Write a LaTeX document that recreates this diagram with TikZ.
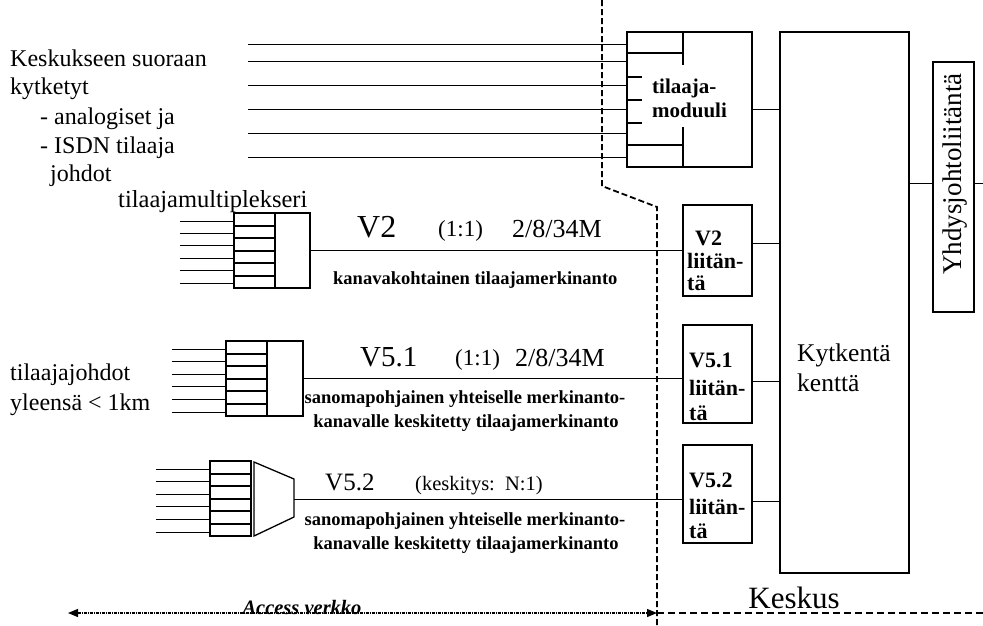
\documentclass[tikz,border=0pt]{standalone}
\usepackage{fontspec}
\setmainfont{Liberation Serif}
\usetikzlibrary{arrows.meta,calc}
\newcommand\fsz[1]{\fontsize{#1}{#1}\selectfont}
\begin{document}
\begin{tikzpicture}[x=1pt,y=-1pt,
  box/.style={draw, line width=1.2pt, inner sep=0pt},
  ln/.style={line width=1pt},
  thk/.style={line width=2pt},
  txt/.style={inner sep=0pt, anchor=base west},
  ctxt/.style={inner sep=0pt, anchor=base},
  sepline/.style={line width=1.8pt, dash pattern=on 6pt off 3pt},
  accline/.style={line width=1.2pt, dash pattern=on 3pt off 1pt on 1pt off 1pt},
  bsm/.style={font=\bfseries\fsz{18.5}},
  bbox/.style={font=\bfseries\fsz{22}},
]
\useasboundingbox (0,0) rectangle (983,625);

% separator between access network and exchange
\coordinate (s1) at (602,0);
\coordinate (s2) at (602,186);
\coordinate (s3) at (657,207);
\coordinate (s4) at (657,625);
\draw[sepline] (s1) -- (s2) -- (s3) -- (s4);

% left text
\node[txt, font=\fsz{24}] (l1) at (10,66) {Keskukseen suoraan};
\node[txt, font=\fsz{24}] (l2) at (10,94) {kytketyt};
\node[txt, font=\fsz{24}] (l3) at (40,124) {- analogiset ja};
\node[txt, font=\fsz{24}] (l4) at (40,153) {- ISDN tilaaja};
\node[txt, font=\fsz{24}] (l5) at (50,181) {johdot};

% subscriber module
\node[box, minimum width=125pt, minimum height=135pt] (mod) at (689.5,99.5) {};
\foreach \y in {44,61,85,109,133,157}
  \draw[ln] (248,\y) -- (mod.west |- 0,\y);
\draw[thk] (683,32) -- (683,65);
\draw[thk] (683,127) -- (683,167);
\draw[thk] (mod.west |- 0,53) -- (683,53);
\draw[thk] (mod.west |- 0,145) -- (683,145);
\foreach \y in {77,100,123}
  \draw[thk] (mod.west |- 0,\y) -- (642,\y);
\node[txt, font=\bfseries\fsz{21}] (mt1) at (652,93) {tilaaja-};
\node[txt, font=\bfseries\fsz{21}] (mt2) at (652,117) {moduuli};

% switching field
\node[box, minimum width=129pt, minimum height=541pt] (kyt) at (844.5,302.5) {};
\node[txt, font=\fsz{25.5}] (kt1) at (797,361) {Kytkentä};
\node[txt, font=\fsz{25.5}] (kt2) at (797,391) {kenttä};
\draw[ln] (mod.east |- 0,109) -- (kyt.west |- 0,109);

% trunk interface
\node[box, minimum width=41pt, minimum height=250pt] (yhd) at (953.5,187) {};
\node[rotate=90, inner sep=0pt, font=\fsz{27}] (yhdt) at (955,174) {Yhdysjohtoliitäntä};
\coordinate (rend) at (983,183);
\draw[ln] (kyt.east |- rend) -- (yhd.west |- rend);
\draw[ln] (yhd.east |- rend) -- (rend);

% interface boxes
\node[box, minimum width=69pt, minimum height=91pt] (v2) at (717.5,250.5) {};
\node[box, minimum width=69pt, minimum height=98pt] (v51) at (717.5,374) {};
\node[box, minimum width=69pt, minimum height=98pt] (v52) at (717.5,494) {};
\node[txt, bbox] (v2a) at (695,245) {V2};
\node[txt, bbox] (v2b) at (687,268) {liitän-};
\node[txt, bbox] (v2c) at (687,290) {tä};
\node[txt, bbox] (v51a) at (689,367) {V5.1};
\node[txt, bbox] (v51b) at (689,395) {liitän-};
\node[txt, bbox] (v51c) at (689,420) {tä};
\node[txt, bbox] (v52a) at (689,487) {V5.2};
\node[txt, bbox] (v52b) at (689,514) {liitän-};
\node[txt, bbox] (v52c) at (689,538) {tä};
\draw[ln] (v2.east |- 0,243) -- (kyt.west |- 0,243);
\draw[ln] (v51.east |- 0,381) -- (kyt.west |- 0,381);
\draw[ln] (v52.east |- 0,501) -- (kyt.west |- 0,501);

% multiplexer 1 (V2)
\node[box, minimum width=76pt, minimum height=75pt] (m1) at (272,250.5) {};
\draw[thk] (275,213) -- (275,288);
\foreach \k in {1,...,5}
  \draw[thk] (m1.west |- 0,{213+\k*12.5}) -- (275,{213+\k*12.5});
\foreach \k in {0,...,5}
  \draw[ln] (180,{221+\k*12.4}) -- (m1.west |- 0,{221+\k*12.4});
\node[txt, font=\fsz{24.5}] (mx1) at (118,207) {tilaajamultiplekseri};
\draw[ln] (m1.east) -- (v2.west);
\node[txt, font=\fsz{32}] (r1a) at (357,237) {V2};
\node[txt, font=\fsz{23}] (r1b) at (438,236) {(1:1)};
\node[txt, font=\fsz{26}] (r1c) at (512,237) {2/8/34M};
\node[txt, bsm] (r1d) at (333,284) {kanavakohtainen tilaajamerkinanto};

% multiplexer 2 (V5.1)
\node[box, minimum width=77pt, minimum height=75pt] (m2) at (264.5,378.5) {};
\draw[thk] (267,341) -- (267,416);
\foreach \k in {1,...,5}
  \draw[thk] (m2.west |- 0,{341+\k*12.5}) -- (267,{341+\k*12.5});
\foreach \k in {0,...,5}
  \draw[ln] (172,{349+\k*12.6}) -- (m2.west |- 0,{349+\k*12.6});
\node[txt, font=\fsz{24}] (tj1) at (10,380) {tilaajajohdot};
\node[txt, font=\fsz{24}] (tj2) at (10,410) {yleensä < 1km};
\draw[ln] (m2.east |- 0,378) -- (v51.west |- 0,378);
\node[txt, font=\fsz{29}] (r2a) at (360,366) {V5.1};
\node[txt, font=\fsz{23}] (r2b) at (455,365) {(1:1)};
\node[txt, font=\fsz{26}] (r2c) at (515,366) {2/8/34M};
\node[ctxt, bsm] (r2d) at (465,403) {sanomapohjainen yhteiselle merkinanto-};
\node[ctxt, bsm] (r2e) at (466,427) {kanavalle keskitetty tilaajamerkinanto};

% multiplexer 3 (V5.2, concentrator)
\node[box, minimum width=41pt, minimum height=75pt] (m3) at (230.5,498.5) {};
\foreach \k in {1,...,5}
  \draw[thk] (m3.west |- 0,{461+\k*12.5}) -- (m3.east |- 0,{461+\k*12.5});
\foreach \k in {0,...,5}
  \draw[ln] (156,{469+\k*12.6}) -- (m3.west |- 0,{469+\k*12.6});
\coordinate (t1) at (254,462);
\coordinate (t2) at (294,479);
\coordinate (t3) at (294,517);
\coordinate (t4) at (254,536);
\coordinate (m3o) at (294,499);
\draw[line width=1.3pt] (t1) -- (t2) -- (t3) -- (t4) -- cycle;
\draw[ln] (m3o) -- (v52.west |- m3o);
\node[txt, font=\fsz{25}] (r3a) at (325,490) {V5.2};
\node[txt, font=\fsz{20.5}] (r3b) at (415,490) {(keskitys:\ \ N:1)};
\node[ctxt, bsm] (r3d) at (465,525) {sanomapohjainen yhteiselle merkinanto-};
\node[ctxt, bsm] (r3e) at (466,549) {kanavalle keskitetty tilaajamerkinanto};

% bottom: access network / exchange
\coordinate (acL) at (68,613);
\coordinate (acR) at (657,613);
\coordinate (exR) at (983,613);
\draw[accline, {Triangle[length=10pt,width=8pt]}-{Triangle[length=10pt,width=8pt]}] (acL) -- (acR);
\node[ctxt, font=\bfseries\itshape\fsz{20.5}] (acc) at (302,614) {Access verkko};
\draw[line width=1.8pt, dash pattern=on 7pt off 4pt] (acR) -- (exR);
\node[ctxt, font=\fsz{31}] (kes) at (794,608) {Keskus};
\end{tikzpicture}
\end{document}
